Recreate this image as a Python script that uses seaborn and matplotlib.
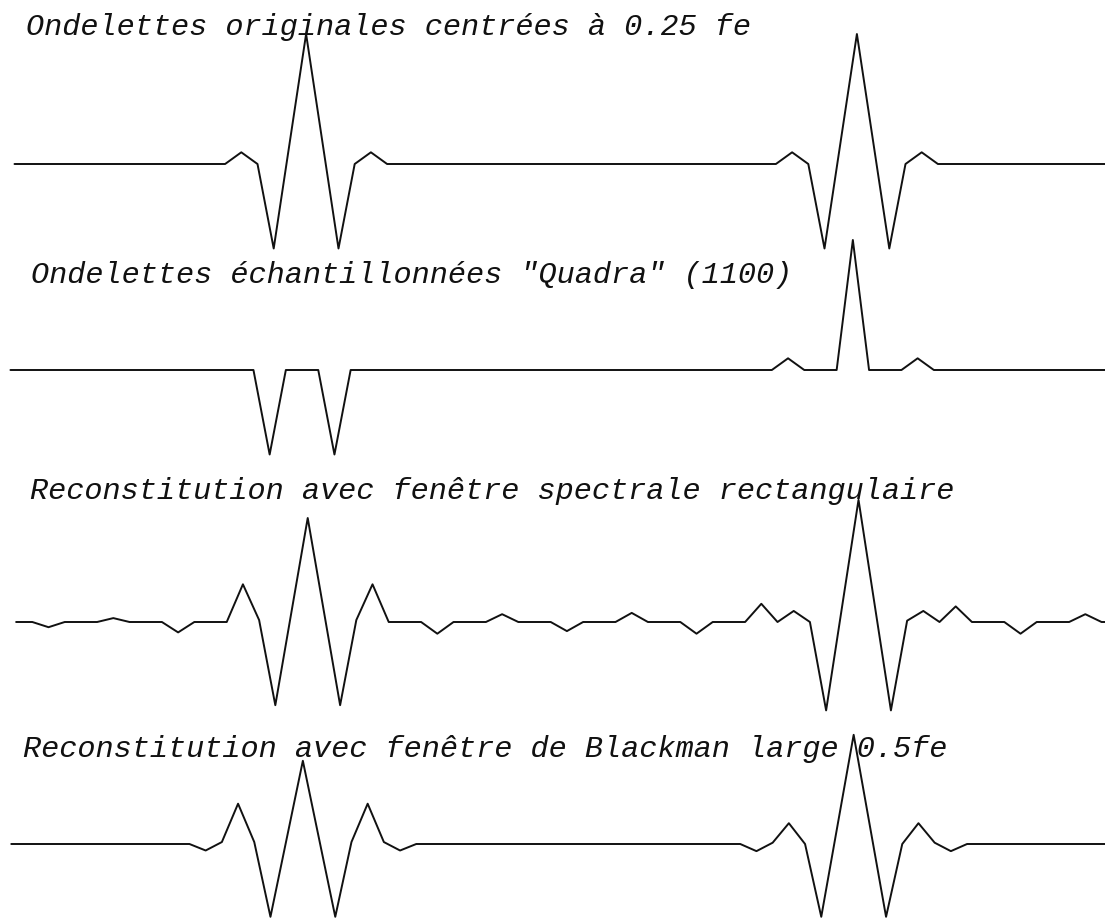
import numpy as np
import pandas as pd
import matplotlib
matplotlib.use("Agg")
import matplotlib.pyplot as plt
import seaborn as sns

# Sample index along the time axis (one sample every ~16 px)
samples = list(range(69))

# Original wavelets centred at 0.25 fe (amplitude normalised to the main peak)
original = [
    0, 0, 0, 0, 0, 0, 0, 0, 0, 0,
    0, 0, 0, 0, 0.09, 0, -0.65, 0.175, 1.0, 0.175,
    -0.65, 0, 0.09, 0, 0, 0, 0, 0, 0, 0,
    0, 0, 0, 0, 0, 0, 0, 0, 0, 0,
    0, 0, 0, 0, 0, 0, 0, 0, 0.09, 0,
    -0.65, 0.175, 1.0, 0.175, -0.65, 0, 0.09, 0, 0, 0,
    0, 0, 0, 0, 0, 0, 0, 0, 0,
]

# "Quadra" (1100) sampled wavelets
quadra = [
    0, 0, 0, 0, 0, 0, 0, 0, 0, 0,
    0, 0, 0, 0, 0, 0, -0.65, 0, 0, 0,
    -0.65, 0, 0, 0, 0, 0, 0, 0, 0, 0,
    0, 0, 0, 0, 0, 0, 0, 0, 0, 0,
    0, 0, 0, 0, 0, 0, 0, 0, 0.09, 0,
    0, 0, 1.0, 0, 0, 0, 0.09, 0, 0, 0,
    0, 0, 0, 0, 0, 0, 0, 0, 0,
]

# Reconstruction through a rectangular spectral window
rectangular = [
    0, 0, -0.04, 0, 0, 0, 0.03, 0, 0, 0,
    -0.08, 0, 0, 0, 0.29, 0.015, -0.64, 0.08, 0.80, 0.08,
    -0.64, 0.015, 0.29, 0, 0, 0, -0.09, 0, 0, 0,
    0.06, 0, 0, 0, -0.07, 0, 0, 0, 0.07, 0,
    0, 0, -0.09, 0, 0, 0, 0.14, 0, 0.085, 0,
    -0.68, 0.13, 0.94, 0.13, -0.68, 0.01, 0.085, 0, 0.12, 0,
    0, 0, -0.09, 0, 0, 0, 0.06, 0, 0,
]

# Reconstruction through a Blackman window, 0.5 fe wide
blackman = [
    0, 0, 0, 0, 0, 0, 0, 0, 0, 0,
    0, 0, -0.05, 0.015, 0.31, 0.015, -0.56, 0.04, 0.64, 0.04,
    -0.56, 0.015, 0.31, 0.015, -0.05, 0, 0, 0, 0, 0,
    0, 0, 0, 0, 0, 0, 0, 0, 0, 0,
    0, 0, 0, 0, 0, 0, -0.055, 0.01, 0.16, 0,
    -0.56, 0.14, 0.84, 0.14, -0.56, 0, 0.16, 0.01, -0.055, 0,
    0, 0, 0, 0, 0, 0, 0, 0, 0,
]

titles = [
    "Ondelettes originales centrées à 0.25 fe",
    "Ondelettes échantillonnées \"Quadra\" (1100)",
    "Reconstitution avec fenêtre spectrale rectangulaire",
    "Reconstitution avec fenêtre de Blackman large 0.5fe",
]
series = [original, quadra, rectangular, blackman]
sample_shift = [0.0, -0.25, 0.1, -0.2]

# Layout (pixels)
W, H = 1105, 919
baselines = [164, 370, 622, 844]
title_pos = [(26, 35), (31, 283), (30, 499), (23, 757)]
unit_px = 130.0          # pixels per unit of amplitude
x0_px, step_px = 14.5, 16.2
half = 1.2               # half-height of each strip in amplitude units

sns.set_theme(style="white")
plt.rcParams["font.family"] = ["Liberation Mono", "DejaVu Sans Mono"]

fig = plt.figure(figsize=(W / 100, H / 100), dpi=100)
fig.patch.set_facecolor("white")

xlim = (-x0_px / step_px, (W - x0_px) / step_px)

for vals, shift, base in zip(series, sample_shift, baselines):
    bottom = (H - base - half * unit_px) / H
    height = 2 * half * unit_px / H
    ax = fig.add_axes([0, bottom, 1, height])
    ax.patch.set_alpha(0)
    df = pd.DataFrame({"t": np.array(samples, dtype=float) + shift, "v": vals})
    sns.lineplot(data=df, x="t", y="v", ax=ax, color="#111111",
                 linewidth=1.4, estimator=None, sort=False)
    ax.set_xlim(*xlim)
    ax.set_ylim(-half, half)
    ax.set_axis_off()

for text, (tx, ty) in zip(titles, title_pos):
    fig.text(tx / W, 1 - ty / H, text, ha="left", va="baseline",
             fontsize=21.8, fontstyle="italic", color="#111111")

fig.savefig("out.png", dpi=100, facecolor="white")
